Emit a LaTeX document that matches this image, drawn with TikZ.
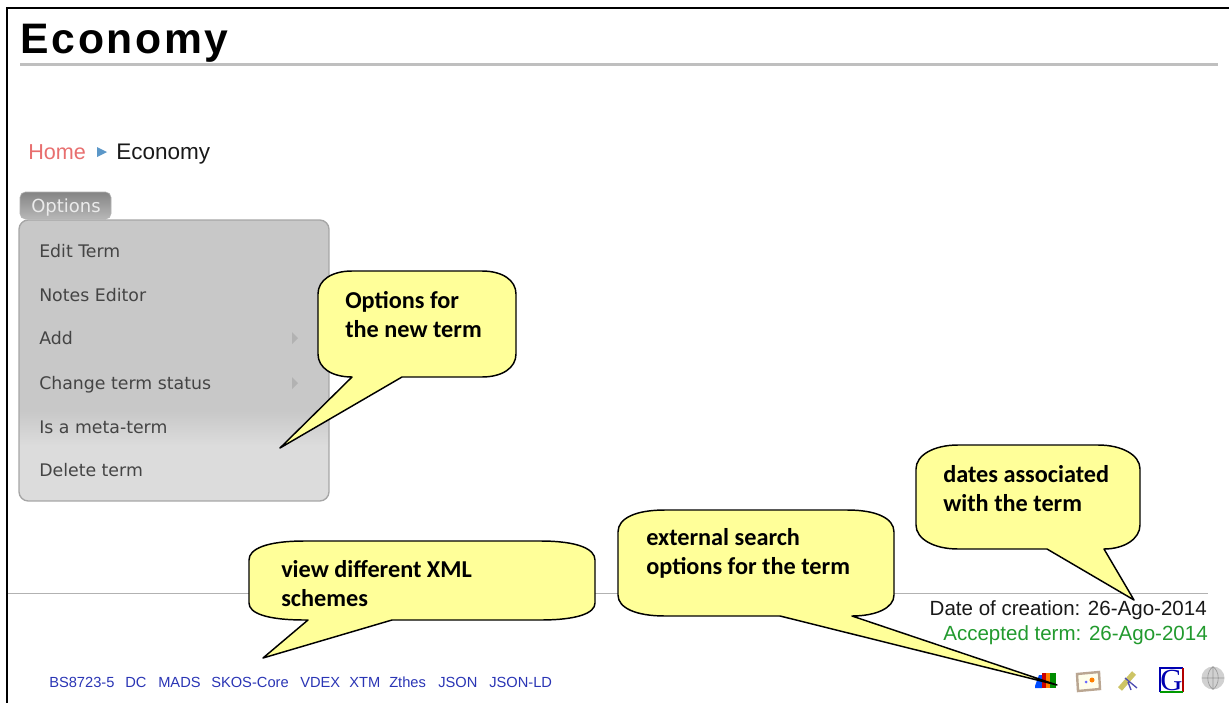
\documentclass[tikz,border=0pt]{standalone}
\usepackage{fontspec}
\setmainfont{Liberation Sans}
\newfontfamily\calfont{Carlito}
\newfontfamily\tahfont{DejaVu Sans}
\newfontfamily\gfont{Liberation Serif}
\definecolor{calloutfill}{HTML}{FFFF99}
\definecolor{menutxt}{HTML}{444444}
\definecolor{linkblue}{HTML}{2A35B5}
\definecolor{homered}{HTML}{E86F6F}
\definecolor{crumbblue}{HTML}{5B97C8}
\definecolor{termgreen}{HTML}{229A2E}
\definecolor{menudark}{HTML}{C8C8C8}
\definecolor{menulight}{HTML}{DCDCDC}
\tikzset{
 px/.style={x=0.75pt,y=-0.75pt},
 callout/.style={draw=black,line width=1.1pt,fill=calloutfill,line join=round},
 calltext/.style={font=\calfont\bfseries\fontsize{18.2}{22.2}\selectfont,anchor=north west,align=left,inner sep=0pt,text=black},
 menuitem/.style={font=\tahfont\fontsize{13}{15}\selectfont,text=menutxt,anchor=west,inner sep=0pt},
 schema/.style={font=\fontsize{11}{13}\selectfont,text=linkblue,anchor=west,inner sep=0pt},
 menuarrow/.style={fill=black!30,draw=none},
}
\begin{document}
\begin{tikzpicture}[px]
\useasboundingbox (0,0) rectangle (1229,703);
\fill[white] (0,0) rectangle (1229,703);
\draw[line width=1.5pt,black] (6.5,703) -- (6.5,8) -- (1229,8);
\node[font=\bfseries\fontsize{32}{36}\selectfont,anchor=base west,inner sep=0pt] (title) at (20.5,53) {\addfontfeature{LetterSpace=6.2}Economy};
\draw[line width=1.6pt,black!25] (20,64.5) -- (1218,64.5);
\node[font=\fontsize{16.2}{20}\selectfont,text=homered,anchor=base west,inner sep=0pt] (home) at (28,159) {Home};
\fill[crumbblue] (97,147) -- (107,152) -- (97,157) -- cycle;
\node[font=\fontsize{16.9}{20}\selectfont,text=black!90,anchor=base west,inner sep=0pt] (eco) at (116,159) {Economy};
% options tab
\draw[draw=black!30,top color=black!48,bottom color=black!28,rounded corners=4pt] (20,219) -- (20,192) -- (111,192) -- (111,219) -- cycle;
\node[font=\tahfont\fontsize{13.5}{15}\selectfont,text=white!92!black,anchor=base west,inner sep=0pt] (opt) at (31,212) {Options};
% menu
\begin{scope}
\clip[rounded corners=7pt] (19,220) rectangle (329,501);
\fill[menudark] (19,220) rectangle (329,412);
\shade[top color=menudark,bottom color=menulight,draw=none] (19,411) rectangle (329,446);
\fill[menulight] (19,445) rectangle (329,501);
\end{scope}
\draw[draw=black!35,line width=1pt,rounded corners=7pt] (19,220) rectangle (329,501);
\node[menuitem] (m1) at (39,251) {Edit Term};
\node[menuitem] (m2) at (39,295) {Notes Editor};
\node[menuitem] (m3) at (39,338) {Add};
\node[menuitem] (m4) at (39,385) {Change term status};
\node[menuitem] (m5) at (39,427) {Is a meta-term};
\node[menuitem] (m6) at (39,470) {Delete term};
\fill[menuarrow] (292,332) -- (298,338) -- (292,344) -- cycle;
\fill[menuarrow] (292,377) -- (298,383) -- (292,389) -- cycle;
% footer line
\draw[line width=0.8pt,black!30] (8,593.5) -- (1208,593.5);
\node[font=\fontsize{15.4}{18}\selectfont,text=black!90,anchor=base east,inner sep=0pt] (d1) at (1207,615) {Date of creation: 26-Ago-2014};
\node[font=\fontsize{15.4}{18}\selectfont,text=termgreen,anchor=base east,inner sep=0pt] (d2) at (1208,640) {Accepted term: 26-Ago-2014};
\node[schema] at (49,682) {BS8723-5};
\node[schema] at (125,682) {DC};
\node[schema] at (158,682) {MADS};
\node[schema] at (211,682) {SKOS-Core};
\node[schema] at (300,682) {VDEX};
\node[schema] at (349,682) {XTM};
\node[schema] at (389,682) {Zthes};
\node[schema] at (438,682) {JSON};
\node[schema] at (489,682) {JSON-LD};
% icons
\fill[blue!70!cyan] (1035,686) -- (1039,675) -- (1042,675) -- (1042,688) -- (1035,688) -- cycle;
\fill[red!80!black] (1042,673) rectangle (1046,688);
\fill[orange] (1046,673) rectangle (1050,688);
\fill[green!55!black] (1050,673) rectangle (1056,688);
\draw[line width=1.8pt,brown!45!gray!70,fill=white!92!yellow] (1077,674) -- (1099,672) -- (1100,689) -- (1078,691) -- cycle;
\fill[orange] (1092,680) circle (2.5);
\fill[blue!60] (1086,682) circle (1.5);
\draw[line width=4pt,brown!30!yellow!60!gray!80] (1120,689) -- (1134,673);
\draw[line width=1pt,blue!40!gray] (1125,678) -- (1137,688) (1128,682) -- (1131,690);
\fill[white] (1160,668) rectangle (1183,692);
\draw[line width=1.2pt,blue!70!black] (1160,692) -- (1160,668) -- (1183,668);
\draw[line width=1.2pt,red!70!black] (1183,668) -- (1183,692);
\draw[line width=1.2pt,green!60!black] (1183,692) -- (1160,692);
\node[font=\gfont\fontsize{23}{24}\selectfont,text=blue!70!black,inner sep=0pt] (g) at (1171.5,680) {G};
\fill[black!18] (1213,678) circle (11.5);
\draw[black!40,line width=0.5pt] (1213,666.5) -- (1213,689.5) (1202,678) -- (1224,678) (1213,666.5) .. controls (1206,672) and (1206,684) .. (1213,689.5) (1213,666.5) .. controls (1220,672) and (1220,684) .. (1213,689.5);
% callouts
\draw[callout] (318,294) .. controls (318,280) and (332,271) .. (352,271) -- (482,271) .. controls (502,271) and (516,280) .. (516,294) -- (516,354) .. controls (516,368) and (502,377) .. (482,377) -- (402,377) -- (280,448) -- (352,377) .. controls (332,377) and (318,368) .. (318,354) -- cycle;
\node[calltext] (c1) at (345,291) {Options for\\the new term};
\draw[callout] (249,560) .. controls (249,549) and (266,541) .. (305,541) -- (540,541) .. controls (578,541) and (595,549) .. (595,560) -- (595,603) .. controls (595,613) and (578,620) .. (540,620) -- (392,620) -- (263,658) -- (308,620) -- (305,620) .. controls (266,620) and (249,613) .. (249,603) -- cycle;
\node[calltext] (c2) at (281,560) {view different XML\\schemes};
\draw[callout] (618,532) .. controls (618,518) and (636,510) .. (665,510) -- (847,510) .. controls (876,510) and (894,518) .. (894,532) -- (894,595) .. controls (894,608) and (876,616) .. (852,616) -- (1057,685) -- (780,616) -- (665,616) .. controls (636,616) and (618,608) .. (618,595) -- cycle;
\node[calltext] (c3) at (646,528) {external search\\options for the term};
\draw[callout] (916,469) .. controls (916,455) and (934,445) .. (958,445) -- (1098,445) .. controls (1122,445) and (1140,455) .. (1140,469) -- (1140,525) .. controls (1140,539) and (1124,549) .. (1104,549) -- (1134,600) -- (1047,549) -- (958,549) .. controls (934,549) and (916,539) .. (916,525) -- cycle;
\node[calltext] (c4) at (943,465) {dates associated\\with the term};
\end{tikzpicture}
\end{document}
